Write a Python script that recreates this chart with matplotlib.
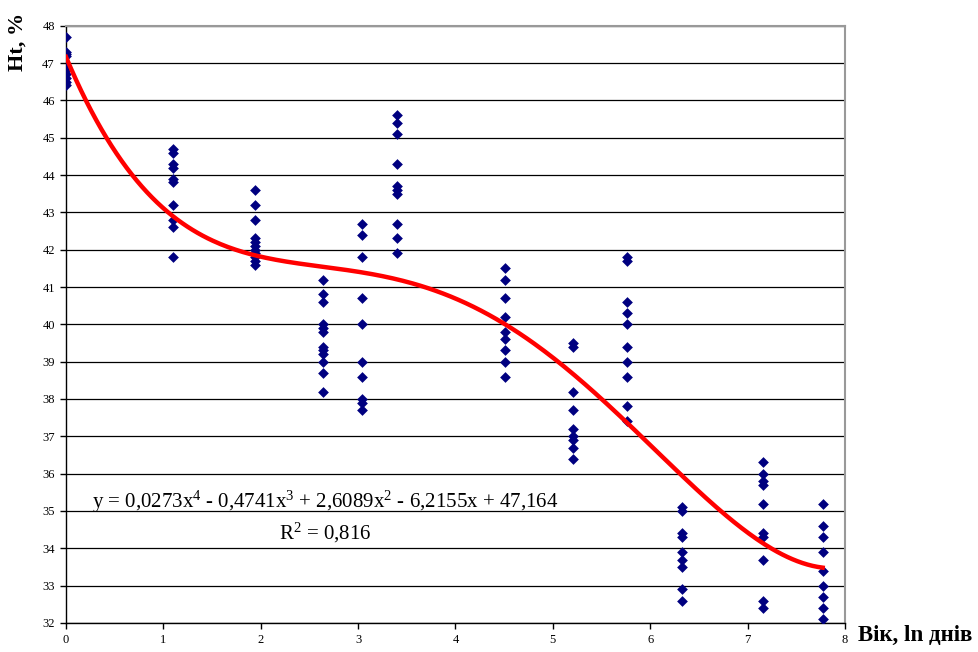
import numpy as np
import matplotlib
matplotlib.use("Agg")
import matplotlib.pyplot as plt

plt.rcParams["font.family"] = ["Liberation Serif", "DejaVu Serif"]
plt.rcParams["mathtext.fontset"] = "custom"
plt.rcParams["mathtext.rm"] = "Liberation Serif"
plt.rcParams["mathtext.it"] = "Liberation Serif:italic"
plt.rcParams["mathtext.bf"] = "Liberation Serif:bold"

# age (ln days) for each sampling group and the Ht values measured in it
ages = [0.0, 1.0986, 1.9459, 2.6391, 3.0445, 3.4012, 4.5109, 5.2095, 5.7621, 6.3279, 7.1546, 7.7706]
ht_groups = [
    [47.7, 47.3, 47.25, 47.2, 46.9, 46.8, 46.7, 46.6, 46.5, 46.4],
    [44.7, 44.6, 44.3, 44.2, 43.9, 43.8, 43.2, 42.8, 42.6, 41.8],
    [43.6, 43.2, 42.8, 42.3, 42.2, 42.1, 42.0, 41.9, 41.8, 41.7, 41.6],
    [41.2, 40.8, 40.6, 40.0, 39.9, 39.8, 39.4, 39.3, 39.2, 39.0, 38.7, 38.2],
    [42.7, 42.4, 41.8, 40.7, 40.0, 39.0, 38.6, 38.0, 37.9, 37.7],
    [45.6, 45.4, 45.1, 44.3, 43.7, 43.6, 43.5, 42.7, 42.3, 41.9],
    [41.5, 41.2, 40.7, 40.2, 39.8, 39.6, 39.3, 39.0, 38.6],
    [39.5, 39.4, 38.2, 37.7, 37.2, 37.0, 36.9, 36.7, 36.4],
    [41.8, 41.7, 40.6, 40.3, 40.0, 39.4, 39.0, 38.6, 37.8, 37.4],
    [35.1, 35.0, 34.4, 34.3, 33.9, 33.7, 33.5, 32.9, 32.6],
    [36.3, 36.0, 35.8, 35.7, 35.2, 34.4, 34.3, 33.7, 32.6, 32.4],
    [35.2, 34.6, 34.3, 33.9, 33.4, 33.0, 32.7, 32.4, 32.1],
]

# 4th-order polynomial trend (highest power first) and its R^2
trend_coefs = [0.0273, -0.4741, 2.6089, -6.2155, 47.164]
r_squared = "0,816"

x_pts = np.concatenate([[a] * len(g) for a, g in zip(ages, ht_groups)])
y_pts = np.concatenate(ht_groups)

fig = plt.figure(figsize=(9.79, 6.52), dpi=100)
ax = fig.add_axes([0.0674, 0.0445, 0.7957, 0.9161])

ax.set_xlim(0, 8)
ax.set_ylim(32, 48)
ax.set_yticks(range(32, 49))
ax.set_xticks(range(0, 9))
ax.yaxis.grid(True, color="black", linewidth=0.9)
ax.set_axisbelow(True)

for side in ("top", "right"):
    ax.spines[side].set_color("#999999")
    ax.spines[side].set_linewidth(1.5)
for side in ("left", "bottom"):
    ax.spines[side].set_color("black")
    ax.spines[side].set_linewidth(1.0)
ax.tick_params(direction="out", length=4, width=1, labelsize=9, pad=4)

ax.scatter(x_pts, y_pts, marker="D", s=30, color="#000080", zorder=3, linewidths=0)

xs = np.linspace(0, ages[-1], 300)
ax.plot(xs, np.polyval(trend_coefs, xs), color="#ff0000", linewidth=3.2, zorder=4)

eq = (r"y = 0,0273x$^{4}$ - 0,4741x$^{3}$ + 2,6089x$^{2}$ - 6,2155x + 47,164")
ax.text(2.66, 35.25, eq, fontsize=15, ha="center", va="center")
ax.text(2.66, 34.42, r"R$^{2}$ = " + r_squared, fontsize=15, ha="center", va="center")

fig.text(0.018, 0.98, "Ht, %", rotation=90, fontsize=16, fontweight="bold",
         ha="center", va="top")
fig.text(0.876, 0.026, "Вік, ln днів", fontsize=16.5, fontweight="bold",
         ha="left", va="center")

fig.savefig("out.png", dpi=100)
